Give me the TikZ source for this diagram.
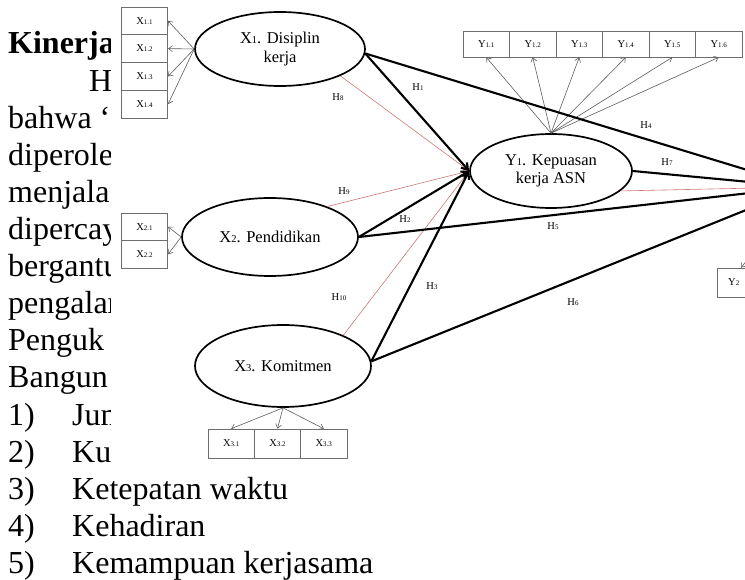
\documentclass[tikz,border=0pt]{standalone}
\usepackage{fontspec}
\setmainfont{Liberation Serif}
\usetikzlibrary{arrows.meta,shapes.geometric}
\definecolor{redline}{RGB}{205,120,120}
\definecolor{boxgray}{RGB}{110,110,110}
\definecolor{arrgray}{RGB}{95,95,95}
\newcommand\smd[1]{{\fontsize{7}{7}\selectfont #1}}
\newcommand\lsub[1]{{\fontsize{10.5}{11}\selectfont #1}}
\begin{document}
\begin{tikzpicture}[x=1pt,y=-1pt,
  body/.style={font=\fontsize{32}{37}\selectfont, inner sep=0pt, anchor=base west},
  lat/.style={draw, ellipse, line width=1.7pt, inner sep=0pt, font=\fontsize{16.5}{18.5}\selectfont, align=center},
  ind/.style={draw=boxgray, line width=0.6pt, inner sep=0pt, minimum width=46.5pt, minimum height=27.5pt, font=\fontsize{10.5}{11}\selectfont},
  arr/.style={draw=arrgray, line width=0.6pt, -{Straight Barb[length=4pt,width=6pt]}},
  hyp/.style={line width=2.1pt, -{Straight Barb[length=6pt,width=8pt]}},
  hyq/.style={line width=2.1pt},
  weak/.style={draw=redline, line width=0.6pt, -{Straight Barb[length=5pt,width=6pt]}},
  weakq/.style={draw=redline, line width=0.6pt},
  hl/.style={font=\fontsize{10.5}{11}\selectfont, inner sep=1pt}
]
\useasboundingbox (0,0) rectangle (745,580);
\fill[white] (0,0) rectangle (745,580);

% ---- background document text (covered by the pasted diagram) ----
\begin{scope}
\clip (0,0) -- (110,0) -- (110,463) -- (745,463) -- (745,580) -- (0,580) -- cycle;
\node[body] (t0) at (8,54) {\bfseries Kinerja};
\node[body] (t1) at (89,92) {H};
\node[body] (t2) at (8,129) {bahwa ‘};
\node[body] (t3) at (8,166) {diperole};
\node[body] (t4) at (8,203) {menjala};
\node[body] (t5) at (8,240) {dipercay};
\node[body] (t6) at (8,277) {bergantu};
\node[body] (t7) at (8,314) {pengalam};
\node[body] (t8) at (8,351) {Penguk};
\node[body] (t9) at (8,388) {Bangun};
\node[body] (n1) at (8,425) {1)};
\node[body] (l1) at (72,425) {Jum};
\node[body] (n2) at (8,462) {2)};
\node[body] (l2) at (72,462) {Kua};
\node[body] (n3) at (8,499) {3)};
\node[body] (l3) at (72,499) {Ketepatan waktu};
\node[body] (n4) at (8,536) {4)};
\node[body] (l4) at (72,536) {Kehadiran};
\node[body] (n5) at (8,573) {5)};
\node[body] (l5) at (72,573) {Kemampuan kerjasama};
\end{scope}

% ---- latent variables ----
\node[lat, minimum width=170pt, minimum height=74pt] (x1) at (280,49) {X\lsub{1}. Disiplin\\kerja};
\node[lat, minimum width=176pt, minimum height=78pt] (x2) at (270,237) {X\lsub{2}. Pendidikan};
\node[lat, minimum width=176pt, minimum height=82pt] (x3) at (283,366) {X\lsub{3}. Komitmen};
\node[lat, minimum width=162pt, minimum height=74pt] (y1) at (551,171) {Y\lsub{1}. Kepuasan\\kerja ASN};
\coordinate (y2) at (803,187);
\coordinate (y2b) at (775,225);

% ---- indicators ----
\node[ind, minimum height=27.75pt] (x11) at (144.5,20.9) {X\smd{1.1}};
\node[ind, minimum height=27.75pt] (x12) at (144.5,48.6) {X\smd{1.2}};
\node[ind, minimum height=27.75pt] (x13) at (144.5,76.4) {X\smd{1.3}};
\node[ind, minimum height=27.75pt] (x14) at (144.5,104.1) {X\smd{1.4}};

\node[ind] (x21) at (144.5,226.75) {X\smd{2.1}};
\node[ind] (x22) at (144.5,254.25) {X\smd{2.2}};

\node[ind, minimum width=46.3pt, minimum height=29pt] (x31) at (231.2,443.5) {X\smd{3.1}};
\node[ind, minimum width=46.3pt, minimum height=29pt] (x32) at (277.5,443.5) {X\smd{3.2}};
\node[ind, minimum width=46.3pt, minimum height=29pt] (x33) at (323.8,443.5) {X\smd{3.3}};

\foreach \i/\xx in {1/486.25,2/532.75,3/579.25,4/625.75,5/672.25,6/718.75}{
  \node[ind, minimum height=26pt] (y1\i) at (\xx,44) {Y\smd{1.\i}};
}
\node[ind, minimum height=29pt] (y21) at (741,282.5) {};
\node[font=\fontsize{10.5}{11}\selectfont, inner sep=0pt, anchor=west] (y21t) at (728,282.5) {Y\smd{2}};

% ---- indicator arrows ----
\foreach \b in {x11,x12,x13,x14}{ \draw[arr] (x1.west) -- (\b.east); }
\foreach \b in {x21,x22}{ \draw[arr] (x2.west) -- (\b.east); }
\foreach \b in {x31,x32,x33}{ \draw[arr] (x3.south) -- (\b.north); }
\foreach \i in {1,...,6}{ \draw[arr] (y1.north) -- (y1\i.south); }
\draw[arr] (y2b) -- (y21.north);

% ---- structural paths ----
\draw[weak] (x1.-24) -- (y1.west);
\draw[weak] (x2.28) -- (y1.west);
\draw[weak] (x3.27) -- (y1.west);
\draw[weakq] (y1.-16) -- (y2);

\draw[hyp] (x1.-3) -- (y1.west);
\draw[hyp] (x2.east) -- (y1.west);
\draw[hyp] (x3.3) -- (y1.west);

\draw[hyq] (x1.-3) -- (y2);
\draw[hyq] (x2.east) -- (y2);
\draw[hyq] (x3.3) -- (y2);
\draw[hyq] (y1.east) -- (y2);

% ---- path labels ----
\node[hl] (h1) at (418,87) {H\smd{1}};
\node[hl] (h2) at (405,219) {H\smd{2}};
\node[hl] (h3) at (432,286) {H\smd{3}};
\node[hl] (h4) at (646,125) {H\smd{4}};
\node[hl] (h5) at (553,226) {H\smd{5}};
\node[hl] (h6) at (573,302) {H\smd{6}};
\node[hl] (h7) at (667,162) {H\smd{7}};
\node[hl] (h8) at (338,97) {H\smd{8}};
\node[hl] (h9) at (344,191) {H\smd{9}};
\node[hl] (h10) at (339,297) {H\smd{10}};
\end{tikzpicture}
\end{document}
